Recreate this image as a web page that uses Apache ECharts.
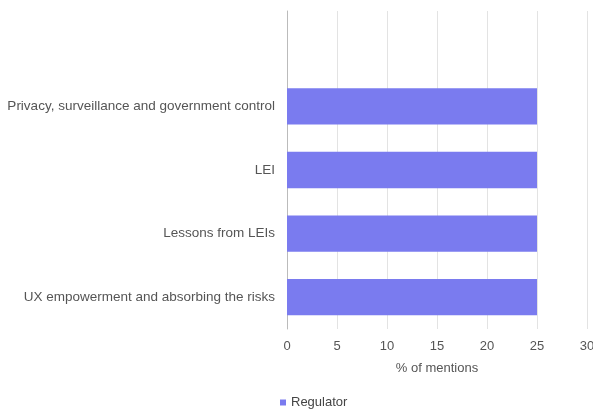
<!DOCTYPE html>
<html>
<head>
<meta charset="utf-8">
<script src="https://cdn.jsdelivr.net/npm/echarts@6/dist/echarts.min.js"></script>
<style>
  html, body { margin: 0; padding: 0; background: #fff; }
  #chart { width: 593px; height: 413px; }
</style>
</head>
<body>
<div id="chart"></div>
<script>
// top slot is empty in the original chart
const categories = ['', 'Privacy, surveillance and government control', 'LEI', 'Lessons from LEIs', 'UX empowerment and absorbing the risks'];
const regulator = [null, 25, 25, 25, 25];
const xTicks = { min: 0, max: 30, interval: 5 };

const chart = echarts.init(document.getElementById('chart'));
chart.setOption({
  backgroundColor: '#fff',
  textStyle: { fontFamily: 'Liberation Sans, Arial, sans-serif' },
  grid: { left: 287, right: 6, top: 11, bottom: 84, containLabel: false, outerBoundsMode: 'none' },
  legend: {
    data: ['Regulator'],
    left: 275,
    top: 396,
    padding: [0, 5],
    icon: 'rect',
    itemWidth: 6,
    itemHeight: 6,
    itemGap: 4,
    textStyle: { color: '#444', fontSize: 13 }
  },
  xAxis: {
    type: 'value',
    min: xTicks.min,
    max: xTicks.max,
    interval: xTicks.interval,
    name: '% of mentions',
    nameLocation: 'middle',
    nameGap: 33,
    nameTextStyle: { color: '#555', fontSize: 13 },
    axisLine: { show: false },
    axisTick: { show: false },
    axisLabel: { color: '#555', fontSize: 13, margin: 11 },
    splitLine: { show: true, lineStyle: { color: '#e3e3e3', width: 1 } }
  },
  yAxis: {
    type: 'category',
    data: categories,
    inverse: true,
    axisLine: { show: true, lineStyle: { color: '#bbb', width: 1 } },
    axisTick: { show: false },
    axisLabel: { color: '#555', fontSize: 13.5, margin: 12 }
  },
  series: [{
    name: 'Regulator',
    type: 'bar',
    data: regulator,
    barWidth: '57%',
    itemStyle: { color: '#7a7bef' }
  }]
});
</script>
</body>
</html>
